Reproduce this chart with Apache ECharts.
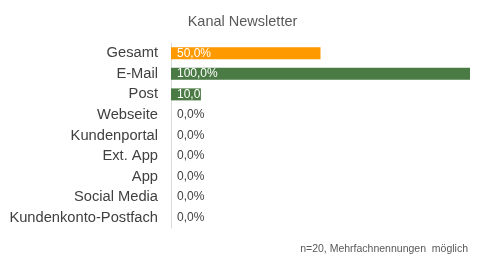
<!DOCTYPE html>
<html><head><meta charset="utf-8">
<script src="https://cdn.jsdelivr.net/npm/echarts@6/dist/echarts.min.js"></script>
<style>html,body{margin:0;padding:0;background:#fff}#c{width:485px;height:259px}</style>
</head><body><div id="c"></div>
<script>
const categories = ["Gesamt","E-Mail","Post","Webseite","Kundenportal","Ext. App","App","Social Media","Kundenkonto-Postfach"];
const values = [50.0,100.0,10.0,0.0,0.0,0.0,0.0,0.0,0.0];
const barColors = ["#FF9900","#4A7B44","#4A7B44","#4A7B44","#4A7B44","#4A7B44","#4A7B44","#4A7B44","#4A7B44"];
const fmt = v => v.toFixed(1).replace('.', ',') + '%';
const chart = echarts.init(document.getElementById('c'));
chart.setOption({
  animation:false,
  title:[{text:'Kanal Newsletter',left:'center',top:9,textStyle:{fontFamily:'Liberation Sans',fontSize:14.5,fontWeight:'normal',color:'#595959'}},
         {text:'n=20, Mehrfachnennungen  möglich',right:12,top:239,textStyle:{fontFamily:'Liberation Sans',fontSize:10.5,fontWeight:'normal',color:'#595959'}}],
  grid:{left:171,right:15,top:43,bottom:31},
  xAxis:{type:'value',min:0,max:100,show:false},
  yAxis:{type:'category',data:categories,inverse:true,
    axisLine:{lineStyle:{color:'#d9d9d9'}},axisTick:{show:false},
    axisLabel:{margin:13,fontFamily:'Liberation Sans',fontSize:14.7,color:'#404040'}},
  series:[{type:'bar',barWidth:12,
    data:values.map((v,i)=>({value:v,itemStyle:{color:barColors[i]},
      label:v>0?{color:'#fff',width:v<20?31:undefined,overflow:v<20?'truncate':'none',ellipsis:''}:{color:'#404040'}})),
    label:{show:true,position:'insideLeft',distance:6,fontFamily:'Liberation Sans',fontSize:12,formatter:p=>fmt(p.value)}}]
});
</script></body></html>
